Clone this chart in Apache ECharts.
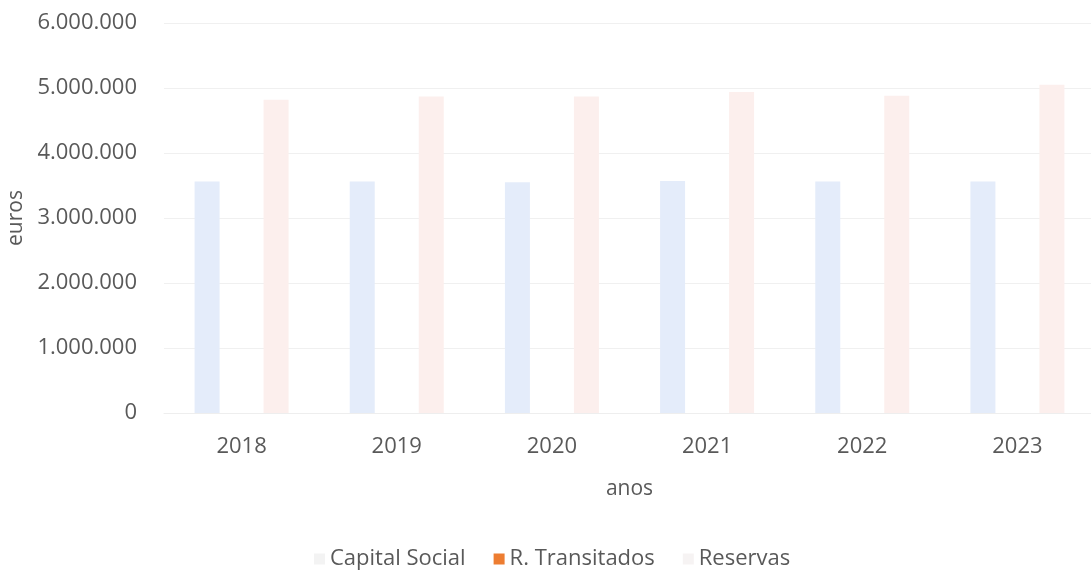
<!DOCTYPE html>
<html>
<head>
<meta charset="utf-8">
<script src="https://cdn.jsdelivr.net/npm/echarts@6/dist/echarts.min.js"></script>
<style>
  html, body { margin: 0; padding: 0; background: #fff; }
  #chart { width: 1091px; height: 574px; }
</style>
</head>
<body>
<div id="chart"></div>
<script>
// dados
var anos = ['2018', '2019', '2020', '2021', '2022', '2023'];
var capitalSocial = [3560000, 3560000, 3550000, 3570000, 3560000, 3560000];
var rTransitados = [0, 0, 0, 0, 0, 0];
var reservas = [4820000, 4870000, 4870000, 4940000, 4880000, 5050000];
var yTicks = [0, 1000000, 2000000, 3000000, 4000000, 5000000, 6000000];

var textColor = '#595959';
var fontFam = '"Open Sans", sans-serif';

function fmt(v) {
    return String(v).replace(/\B(?=(\d{3})+(?!\d))/g, '.');
}

var chart = echarts.init(document.getElementById('chart'));
chart.setOption({
    animation: false,
    textStyle: { fontFamily: fontFam },
    grid: { left: 164, right: -4, top: 23, bottom: 161, outerBoundsMode: 'none', containLabel: false },
    legend: {
        left: 309,
        top: 543,
        itemWidth: 11,
        itemHeight: 11,
        itemGap: 28,
        icon: 'rect',
        textStyle: { color: textColor, fontSize: 22, fontFamily: fontFam },
        data: [
            { name: 'Capital Social', itemStyle: { color: '#f3f3f3' } },
            { name: 'R. Transitados', itemStyle: { color: '#ed7d31' } },
            { name: 'Reservas', itemStyle: { color: '#f6f3f3' } }
        ]
    },
    xAxis: {
        type: 'category',
        data: anos,
        name: 'anos',
        nameLocation: 'middle',
        nameGap: 66,
        nameTextStyle: { color: textColor, fontSize: 21 },
        axisLine: { lineStyle: { color: '#eeeeee' } },
        axisTick: { show: false },
        axisLabel: { color: textColor, fontSize: 22, margin: 23 }
    },
    yAxis: {
        type: 'value',
        min: yTicks[0],
        max: yTicks[yTicks.length - 1],
        interval: 1000000,
        name: 'euros',
        nameLocation: 'middle',
        nameGap: 136,
        nameTextStyle: { color: textColor, fontSize: 21 },
        axisLine: { show: false },
        axisTick: { show: false },
        splitLine: { lineStyle: { color: '#f0f0f0' } },
        axisLabel: { color: textColor, fontSize: 22, margin: 27, formatter: fmt }
    },
    series: [
        {
            name: 'Capital Social',
            type: 'bar',
            data: capitalSocial,
            barWidth: 25,
            barGap: '38%',
            itemStyle: { color: '#e4ecfa' }
        },
        {
            name: 'R. Transitados',
            type: 'bar',
            data: rTransitados,
            barWidth: 25,
            itemStyle: { color: '#ed7d31' }
        },
        {
            name: 'Reservas',
            type: 'bar',
            data: reservas,
            barWidth: 25,
            itemStyle: { color: '#fcefed' }
        }
    ]
});
</script>
</body>
</html>
